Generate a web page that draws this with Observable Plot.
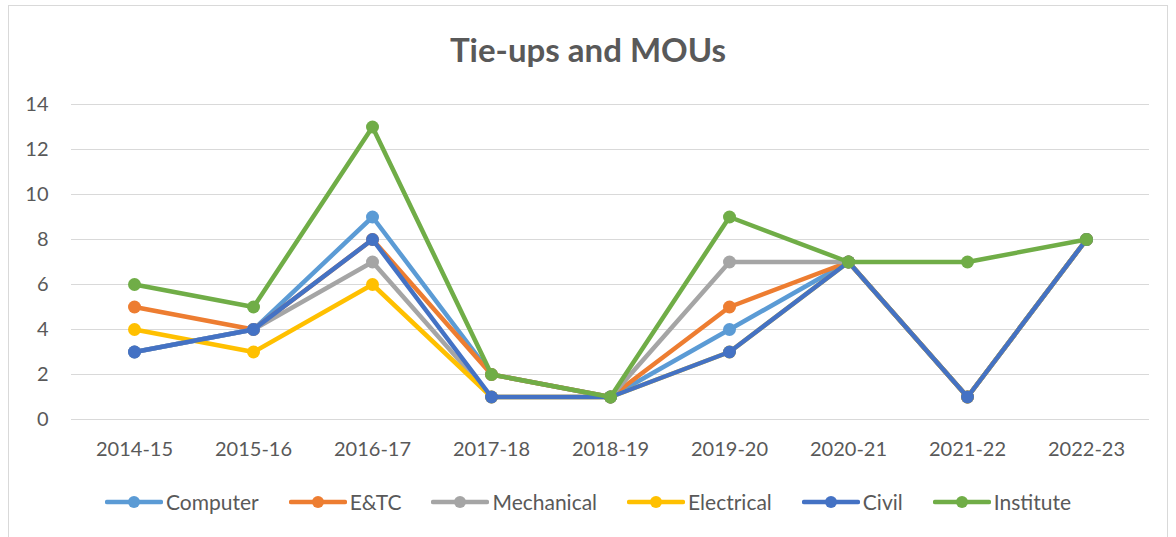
<!DOCTYPE html>
<html>
<head>
<meta charset="utf-8">
<script src="https://cdn.jsdelivr.net/npm/d3@7"></script>
<script src="https://cdn.jsdelivr.net/npm/@observablehq/plot@0.6"></script>
<style>
  html, body { margin: 0; padding: 0; background: #fff; }
  #wrap { position: relative; width: 1176px; height: 537px; overflow: hidden; font-family: Lato, "Open Sans", sans-serif; }
  #frame { position: absolute; left: 8px; top: 5px; width: 1160px; height: 560px; border: 1px solid #D9D9D9; box-sizing: border-box; }
  #title { position: absolute; left: 0; top: 29px; width: 1176px; text-align: center; font-size: 33px; font-weight: 700; color: #595959; }
  #chart { position: absolute; left: 0; top: 90px; }
  #legend { position: absolute; left: 0; top: 489px; width: 1176px; display: flex; justify-content: center; align-items: center; font-size: 21px; color: #595959; }
  .item { display: flex; align-items: center; margin: 0 15px; }
  .item svg { margin-right: 3px; }
</style>
</head>
<body>
<div id="wrap">
  <div id="frame"></div>
  <div id="title">Tie-ups and MOUs</div>
  <div id="chart"></div>
  <div id="legend"></div>
</div>
<script>
const years = ["2014-15","2015-16","2016-17","2017-18","2018-19","2019-20","2020-21","2021-22","2022-23"];
const seriesNames = ["Computer","E&TC","Mechanical","Electrical","Civil","Institute"];
const seriesColors = ["#5B9BD5","#ED7D31","#A5A5A5","#FFC000","#4472C4","#70AD47"];
const computer   = [3, 4, 9, 2, 1, 4, 7, 1, 8];
const etc        = [5, 4, 8, 2, 1, 5, 7, 1, 8];
const mechanical = [3, 4, 7, 1, 1, 7, 7, 1, 8];
const electrical = [4, 3, 6, 1, 1, 3, 7, 1, 8];
const civil      = [3, 4, 8, 1, 1, 3, 7, 1, 8];
const institute  = [6, 5, 13, 2, 1, 9, 7, 7, 8];
const yTicks = [0, 2, 4, 6, 8, 10, 12, 14];

const seriesValues = [computer, etc, mechanical, electrical, civil, institute];
const tables = seriesValues.map((vals, s) => vals.map((v, i) => ({year: years[i], value: v, series: seriesNames[s]})));

const marks = [
  Plot.ruleY(yTicks, {stroke: "#D9D9D9", strokeWidth: 1})
];
tables.forEach((t, s) => {
  marks.push(Plot.line(t, {x: "year", y: "value", stroke: seriesColors[s], strokeWidth: 4.5, strokeLinejoin: "round", strokeLinecap: "round"}));
  marks.push(Plot.dot(t, {x: "year", y: "value", r: 6.5, fill: seriesColors[s], stroke: "none"}));
});
marks.push(Plot.axisY({ticks: yTicks, tickSize: 0, tickPadding: 23, fontSize: 20, color: "#595959", label: null}));
marks.push(Plot.axisX({tickSize: 0, tickPadding: 22, fontSize: 20, color: "#595959", label: null}));

const chart = Plot.plot({
  width: 1176,
  height: 380,
  marginLeft: 71,
  marginRight: 27,
  marginTop: 14,
  marginBottom: 51,
  style: {fontFamily: "Lato, 'Open Sans', sans-serif", background: "transparent", overflow: "visible"},
  x: {type: "point", domain: years, padding: 0.5},
  y: {domain: [0, 14]},
  marks
});
document.getElementById("chart").appendChild(chart);

const legend = document.getElementById("legend");
seriesNames.forEach((name, i) => {
  const item = document.createElement("div");
  item.className = "item";
  item.innerHTML = `<svg width="58" height="14"><line x1="2" y1="7" x2="56" y2="7" stroke="${seriesColors[i]}" stroke-width="4.5" stroke-linecap="round"/><circle cx="29" cy="7" r="6" fill="${seriesColors[i]}"/></svg><span></span>`;
  item.querySelector("span").textContent = name;
  legend.appendChild(item);
});
</script>
</body>
</html>
